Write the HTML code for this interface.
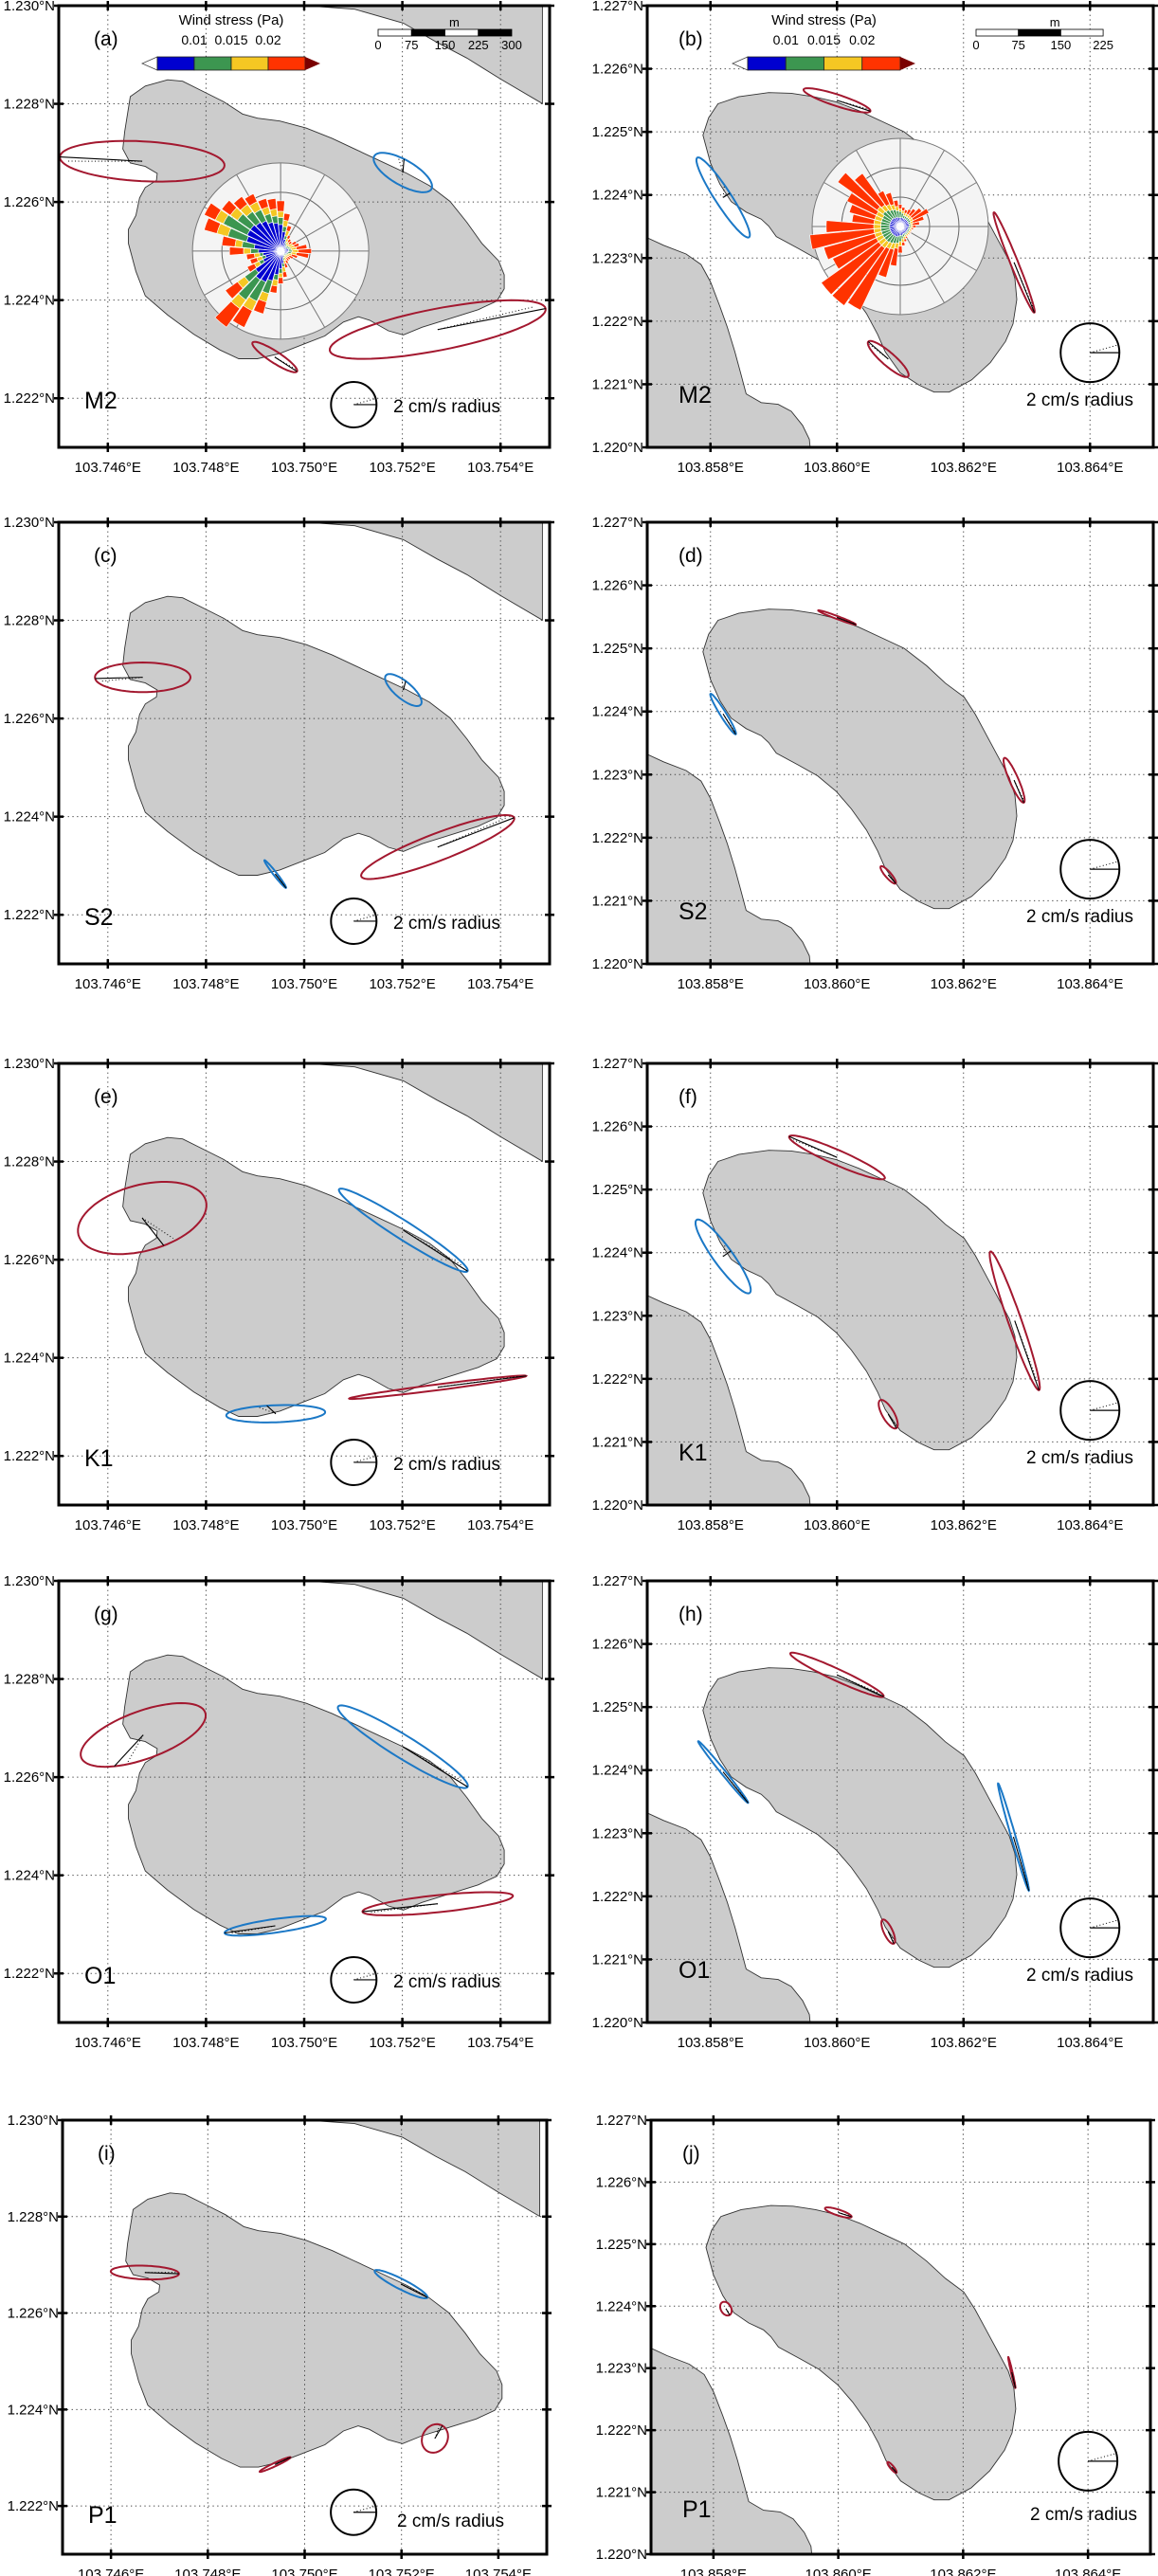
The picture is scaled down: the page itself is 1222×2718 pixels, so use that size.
<!DOCTYPE html>
<html><head><meta charset="utf-8"><title>Tidal ellipses</title>
<style>
html,body{margin:0;padding:0;background:#fff;}
svg{display:block;font-family:"Liberation Sans",Arial,sans-serif;}
</style></head>
<body>
<svg id="fig" xmlns="http://www.w3.org/2000/svg" width="1222" height="2718" viewBox="0 0 1222 2718"></svg>
<script>
// ---- Tidal ellipse data (one entry per ellipse) ----
const ellPanel = [0,0,0,0, 1,1,1,1, 2,2,2,2, 3,3,3,3, 4,4,4,4, 5,5,5,5, 6,6,6,6, 7,7,7,7, 8,8,8,8, 9,9,9,9];
const ellLon = [103.74670,103.75201,103.74940,103.75272, 103.86000,103.85820,103.86280,103.86081,
  103.74671,103.75202,103.74941,103.75272, 103.86000,103.85820,103.86280,103.86081,
  103.74670,103.75202,103.74942,103.75272, 103.86000,103.85820,103.86281,103.86081,
  103.74672,103.75201,103.74941,103.75272, 103.86000,103.85820,103.86279,103.86081,
  103.74670,103.75199,103.74939,103.75269, 103.86000,103.85820,103.86278,103.86086];
const ellLat = [1.22683,1.22660,1.22284,1.22340, 1.22550,1.22396,1.22293,1.22140,
  1.22684,1.22658,1.22283,1.22338, 1.22549,1.22396,1.22291,1.22141,
  1.22685,1.22660,1.22286,1.22340, 1.22551,1.22394,1.22292,1.22144,
  1.22686,1.22662,1.22297,1.22342, 1.22551,1.22397,1.22294,1.22144,
  1.22684,1.22660,1.22286,1.22340, 1.22551,1.22396,1.22293,1.22140];
const ellMajor = [7.25,2.9,2.33,9.67, 2.39,3.23,3.68,1.8, 4.2,2.0,1.54,7.2, 1.37,1.62,1.66,0.77,
  5.8,6.7,4.35,7.85, 3.55,3.07,5.0,1.1, 5.8,6.7,4.5,6.65, 3.5,2.7,3.8,0.9, 3.0,2.6,1.5,1.3, 0.95,0.5,1.08,0.47];
const ellMinor = [1.75,1.1,0.5,1.83, 0.39,0.55,0.26,0.45, 1.3,0.75,0.15,1.2, 0.1,0.2,0.3,0.2,
  2.9,0.8,0.75,0.25, 0.5,0.65,0.45,0.4, 2.1,1.0,0.6,0.75, 0.4,0.15,0.15,0.3, 0.6,0.45,0.15,1.1, 0.2,0.35,0.05,0.12];
const ellIncl = [-3,-30,-33,11, -18,-57,-68,-41, 0,-40,-52,21, -20.5,-58,-66.5,-49,
  15,-32.5,2,7.3, -23.6,-54,-70.7,-60, 20,-31.8,8,6, -24.8,-51,-74,-65, -2,-27,25,60, -18,-60,-77,-50];
const ellPhase = [180,100,0,0, 0,90,0,180, 185,100,0,0, 0,0,0,0, -78,0,100,0, 180,90,0,0,
  -125,0,180,180, 0,0,0,0, 0,0,0,0, 0,0,0,0];
const ellSense = ['cw','ccw','cw','cw', 'cw','ccw','cw','cw', 'cw','ccw','ccw','cw', 'cw','ccw','cw','cw',
  'cw','ccw','ccw','cw', 'cw','ccw','cw','cw', 'cw','ccw','ccw','cw', 'cw','ccw','ccw','cw',
  'cw','ccw','cw','cw', 'cw','cw','cw','cw'];

// ---- Wind rose data (bearing bins of 10 deg, cumulative fraction of outer ring) ----
const roseBearings = [0,10,20,30,40,50,60,70,80,90,100,110,120,130,140,150,160,170,180,190,200,210,220,230,240,250,260,270,280,290,300,310,320,330,340,350];
const roseA_blue  = [0.3,0.22,0.14,0.1,0.08,0.07,0.07,0.08,0.09,0.09,0.08,0.07,0.06,0.05,0.05,0.06,0.08,0.14,0.2,0.27,0.35,0.39,0.4,0.35,0.22,0.18,0.2,0.25,0.3,0.4,0.42,0.42,0.4,0.38,0.34,0.32];
const roseA_green = [0.38,0.28,0.18,0.12,0.1,0.09,0.1,0.11,0.12,0.13,0.12,0.09,0.08,0.07,0.07,0.08,0.11,0.18,0.25,0.33,0.5,0.63,0.68,0.5,0.27,0.22,0.24,0.34,0.44,0.62,0.72,0.6,0.55,0.52,0.44,0.4];
const roseA_yellow= [0.45,0.35,0.24,0.16,0.13,0.12,0.15,0.16,0.18,0.2,0.18,0.13,0.11,0.1,0.1,0.12,0.15,0.24,0.3,0.4,0.6,0.75,0.8,0.6,0.33,0.28,0.3,0.42,0.52,0.75,0.82,0.7,0.65,0.62,0.52,0.48];
const roseA_red   = [0.57,0.43,0.3,0.2,0.17,0.16,0.2,0.22,0.3,0.35,0.32,0.2,0.16,0.14,0.14,0.16,0.2,0.3,0.37,0.48,0.74,0.96,1.06,0.77,0.42,0.36,0.39,0.58,0.67,0.9,0.96,0.82,0.76,0.72,0.62,0.6];
const roseB_blue  = [0.1,0.1,0.1,0.1,0.1,0.1,0.1,0.1,0.1,0.1,0.09,0.09,0.09,0.09,0.09,0.09,0.09,0.1,0.1,0.11,0.12,0.12,0.12,0.12,0.12,0.12,0.12,0.12,0.12,0.12,0.12,0.12,0.12,0.11,0.11,0.1];
const roseB_green = [0.17,0.15,0.13,0.13,0.13,0.13,0.13,0.12,0.12,0.12,0.11,0.11,0.11,0.11,0.11,0.11,0.12,0.14,0.17,0.19,0.2,0.21,0.22,0.22,0.22,0.22,0.22,0.22,0.22,0.22,0.22,0.24,0.23,0.21,0.2,0.18];
const roseB_yellow= [0.2,0.18,0.16,0.16,0.16,0.16,0.16,0.15,0.14,0.14,0.13,0.13,0.13,0.13,0.13,0.13,0.15,0.18,0.22,0.25,0.27,0.28,0.3,0.3,0.3,0.3,0.3,0.3,0.3,0.3,0.3,0.32,0.3,0.28,0.26,0.23];
const roseB_red   = [0.25,0.22,0.2,0.22,0.25,0.3,0.36,0.28,0.22,0.18,0.15,0.14,0.14,0.14,0.14,0.15,0.18,0.22,0.3,0.45,0.6,1.05,1.1,1.1,0.85,0.9,1.03,0.84,0.55,0.6,0.67,0.87,0.74,0.45,0.4,0.3];

// ---- Tick labels ----
const lonTicksL = [103.746,103.748,103.750,103.752,103.754];
const latTicksL = [1.222,1.224,1.226,1.228,1.230];
const lonTicksR = [103.858,103.860,103.862,103.864];
const latTicksR = [1.220,1.221,1.222,1.223,1.224,1.225,1.226,1.227];
const colorbarTicks = ['0.01','0.015','0.02'];

// ---- Coastlines (digitised on the map grid) ----
const islandL = [[345,600],[360,500],[400,470],[460,452],[500,456],[560,488],[610,515],[660,550],[700,562],[760,570],[830,590],[900,620],[960,650],[1020,680],[1100,720],[1160,755],[1215,800],[1260,860],[1300,920],[1345,970],[1360,1010],[1360,1050],[1340,1085],[1290,1110],[1200,1140],[1140,1160],[1090,1182],[1050,1170],[1000,1140],[970,1130],[930,1145],[880,1185],[820,1210],[760,1235],[700,1250],[650,1250],[600,1225],[530,1180],[460,1125],[400,1070],[375,1000],[355,920],[355,880],[375,840],[385,790],[400,760],[430,740],[432,720],[400,700],[360,690],[340,650]];
const mainlandL = [[830,240],[960,250],[1090,290],[1180,345],[1260,390],[1350,450],[1462,520],[1462,240]];
const islandR = [[345,610],[360,560],[385,520],[440,500],[520,488],[580,490],[640,500],[700,515],[760,540],[820,570],[880,600],[940,650],[990,700],[1040,740],[1070,790],[1100,850],[1130,910],[1160,970],[1175,1020],[1180,1080],[1170,1150],[1150,1200],[1110,1260],[1060,1310],[1000,1345],[960,1345],[920,1325],[870,1290],[830,1230],[810,1180],[780,1120],[740,1060],[700,1010],[650,965],[600,935],[540,900],[520,870],[500,850],[460,830],[420,800],[390,750],[365,690]];
const mainlandR = [[190,900],[240,925],[300,950],[340,980],[365,1030],[390,1100],[410,1160],[430,1230],[445,1290],[460,1350],[500,1375],[545,1380],[580,1400],[610,1440],[628,1480],[630,1503],[190,1503]];
function gridL(p){return [103.746+(p[0]-300)/131250, 1.230-(p[1]-240)/140400];}
function gridR(p){return [103.858+(p[0]-365)/168300, 1.226-(p[1]-420)/180500];}

const NS='http://www.w3.org/2000/svg';
const svg=document.getElementById('fig');
function mk(tag,attrs,parent){const e=document.createElementNS(NS,tag);for(const k in attrs)e.setAttribute(k,attrs[k]);(parent||svg).appendChild(e);return e;}

const panels=[
 {id:'a',con:'M2',side:'L',x:62,y:6,w:518,h:466},
 {id:'b',con:'M2',side:'R',x:683,y:6,w:534,h:466},
 {id:'c',con:'S2',side:'L',x:62,y:551,w:518,h:466},
 {id:'d',con:'S2',side:'R',x:683,y:551,w:534,h:466},
 {id:'e',con:'K1',side:'L',x:62,y:1122,w:518,h:466},
 {id:'f',con:'K1',side:'R',x:683,y:1122,w:534,h:466},
 {id:'g',con:'O1',side:'L',x:62,y:1668,w:518,h:466},
 {id:'h',con:'O1',side:'R',x:683,y:1668,w:534,h:466},
 {id:'i',con:'P1',side:'L',x:66,y:2237,w:511,h:458},
 {id:'j',con:'P1',side:'R',x:687,y:2237,w:527,h:458}
];
const COL={cw:'#a3182f',ccw:'#1b78c6'};

function roseSector(g,cx,cy,R,b,r0,r1,fill){
  if(r1<=r0) return;
  const a0=(b-4.6)*Math.PI/180,a1=(b+4.6)*Math.PI/180;
  const p=(r,a)=>[(cx+r*R*Math.sin(a)).toFixed(2),(cy-r*R*Math.cos(a)).toFixed(2)];
  const A=p(r0,a0),B=p(r1,a0),C=p(r1,a1),D=p(r0,a1);
  const s=mk('path',{d:`M${A}L${B}A${r1*R},${r1*R} 0 0 1 ${C}L${D}A${r0*R},${r0*R} 0 0 0 ${A}Z`,fill:fill,stroke:'#fff','stroke-width':0.6},g);
  
  
}

function drawRose(g,cx,cy,R,blu,gre,yel,red){
  const bg=mk('circle',{cx:cx,cy:cy,r:R,fill:'#f4f4f4',stroke:'#777','stroke-width':1},g);
  
  
  for(const fr of [1/3,2/3]){
    const c=mk('circle',{cx:cx,cy:cy,r:R*fr,fill:'none',stroke:'#666','stroke-width':1},g);
    
    
  }
  for(let a=0;a<180;a+=30){
    const t=a*Math.PI/180;
    const l=mk('line',{x1:cx-R*Math.sin(t),y1:cy+R*Math.cos(t),x2:cx+R*Math.sin(t),y2:cy-R*Math.cos(t),stroke:'#777','stroke-width':1},g);
    
    
  }
  roseBearings.forEach((b,i)=>{
    roseSector(g,cx,cy,R,b,yel[i],red[i],'#ff3300');
    roseSector(g,cx,cy,R,b,gre[i],yel[i],'#f5c723');
    roseSector(g,cx,cy,R,b,blu[i],gre[i],'#3c9650');
    roseSector(g,cx,cy,R,b,0,blu[i],'#0000d0');
  });
}

function drawColorbar(x0,x1,y){
  const g=mk('g',{});
  
  
  const w=(x1-x0)/4, cols=['#0000d0','#3c9650','#f5c723','#ff3300'];
  const tl=mk('polygon',{points:`${x0},${y} ${x0},${y+14} ${x0-16},${y+7}`,fill:'#fff',stroke:'#444','stroke-width':0.8},g);
  
  
  cols.forEach((c,i)=>{
    const r=mk('rect',{x:x0+i*w,y:y,width:w,height:14,fill:c,stroke:'#222','stroke-width':0.8},g);
    
    
  });
  const tr=mk('polygon',{points:`${x1},${y} ${x1},${y+14} ${x1+16},${y+7}`,fill:'#7a0000'},g);
  
  
  const t=mk('text',{x:(x0+x1)/2,y:y-34,'font-size':15,'text-anchor':'middle'},g);
  t.textContent='Wind stress (Pa)';
  
  
  colorbarTicks.forEach((lab,i)=>{
    const tx=mk('text',{x:x0+(i+1)*w,y:y-13,'font-size':14,'text-anchor':'middle'},g);
    tx.textContent=lab;
    
    
  });
}

function drawScalebar(x0,segW,n,labels,y){
  const g=mk('g',{});
  
  
  for(let i=0;i<n;i++){
    const r=mk('rect',{x:x0+i*segW,y:y,width:segW,height:7,fill:i%2?'#000':'#fff',stroke:'#000','stroke-width':0.8},g);
    
    
  }
  const m=mk('text',{x:x0+n*segW*(n===4?0.57:0.62),y:y-3,'font-size':13,'text-anchor':'middle'},g);
  m.textContent='m';
  
  
  labels.forEach((l,i)=>{
    const t=mk('text',{x:x0+i*segW,y:y+21,'font-size':13,'text-anchor':'middle'},g);
    t.textContent=l;
    
    
  });
}

panels.forEach((P,pi)=>{
  const L=P.side==='L';
  const lon0=L?103.745:103.857, lon1=L?103.755:103.865, lat0=L?1.221:1.220, lat1=L?1.230:1.227;
  const X=lon=>P.x+(lon-lon0)/(lon1-lon0)*P.w;
  const Y=lat=>P.y+(lat1-lat)/(lat1-lat0)*P.h;
  const pxCm=L?12:15.5;
  const g=mk('g',{});
  
  
  const cp=mk('clipPath',{id:'clip'+P.id},g);
  mk('rect',{x:P.x,y:P.y,width:P.w,height:P.h},cp);
  const inner=mk('g',{'clip-path':`url(#clip${P.id})`},g);
  const conv=L?gridL:gridR;
  const poly=(pts,name)=>{
    const d=pts.map((p,i)=>{const q=conv(p);return (i?'L':'M')+X(q[0]).toFixed(1)+','+Y(q[1]).toFixed(1);}).join('')+'Z';
    const e=mk('path',{d:d,fill:'#cccccc',stroke:'#333','stroke-width':0.9},inner);
    
    
  };
  poly(L?mainlandL:mainlandR,'mainland-coast');
  poly(L?islandL:islandR,'island-land');
  // grid
  const lonT=L?lonTicksL:lonTicksR, latT=L?latTicksL:latTicksR;
  lonT.forEach(v=>{
    const l=mk('line',{x1:X(v),x2:X(v),y1:P.y,y2:P.y+P.h,stroke:'#444','stroke-width':1,'stroke-dasharray':'1.3,3.5'},inner);
    
    
  });
  latT.forEach(v=>{
    const l=mk('line',{x1:P.x,x2:P.x+P.w,y1:Y(v),y2:Y(v),stroke:'#444','stroke-width':1,'stroke-dasharray':'1.3,3.5'},inner);
    
    
  });
  // wind rose
  if(P.id==='a'){const rg=mk('g',{},inner);drawRose(rg,X(103.74952),Y(1.22500),93,roseA_blue,roseA_green,roseA_yellow,roseA_red);}
  if(P.id==='b'){const rg=mk('g',{},inner);drawRose(rg,X(103.86100),Y(1.22350),93,roseB_blue,roseB_green,roseB_yellow,roseB_red);}
  // ellipses
  ellPanel.forEach((pp,k)=>{
    if(pp!==pi) return;
    const cx=X(ellLon[k]), cy=Y(ellLat[k]);
    const a=ellMajor[k]*pxCm, b=ellMinor[k]*pxCm, th=ellIncl[k]*Math.PI/180;
    const ux=Math.cos(th), uy=-Math.sin(th), vx=-Math.sin(th), vy=-Math.cos(th);
    const pt=t=>{const r=t*Math.PI/180;return [cx+a*Math.cos(r)*ux+b*Math.sin(r)*vx, cy+a*Math.cos(r)*uy+b*Math.sin(r)*vy];};
    let d='';
    for(let t=0;t<=360;t+=5){const q=pt(t);d+=(t?'L':'M')+q[0].toFixed(1)+','+q[1].toFixed(1);}
    const e=mk('path',{d:d+'Z',fill:'none',stroke:COL[ellSense[k]],'stroke-width':2},inner);
    
    
    const q=pt(ellPhase[k]);
    const ln=mk('line',{x1:cx,y1:cy,x2:q[0],y2:q[1],stroke:'#000','stroke-width':1.1},inner);
    
    
    const q2=pt(ellPhase[k]+12);
    const ld=mk('line',{x1:cx,y1:cy,x2:cx+(q2[0]-cx)*0.92,y2:cy+(q2[1]-cy)*0.92,stroke:'#000','stroke-width':1,'stroke-dasharray':'1,2.5'},inner);
    
    
  });
  // legend circle
  const lcx=L?X(103.75101):X(103.864), lcy=L?Y(1.22187):Y(1.22150), lr=2*pxCm;
  const lc=mk('circle',{cx:lcx,cy:lcy,r:lr,fill:'none',stroke:'#000','stroke-width':2},inner);
  
  
  const lh=mk('line',{x1:lcx,y1:lcy,x2:lcx+lr,y2:lcy,stroke:'#000','stroke-width':1.2},inner);
  
  
  const ldt=mk('line',{x1:lcx,y1:lcy,x2:lcx+lr*0.9,y2:lcy-lr*0.25,stroke:'#000','stroke-width':1,'stroke-dasharray':'1,2.5'},inner);
  
  
  const lt=mk('text',{x:L?P.x+353:P.x+400,y:L?P.y+429:P.y+422,'font-size':19},g);
  lt.textContent='2 cm/s radius';
  
  
  // labels
  const pl=mk('text',{x:L?P.x+37:P.x+33,y:P.y+42,'font-size':21},g);
  pl.textContent='('+P.id+')';
  
  
  const cl=mk('text',{x:L?P.x+27:P.x+33,y:L?P.y+425:P.y+419,'font-size':25},g);
  cl.textContent=P.con;
  
  
  // frame
  const fr=mk('rect',{x:P.x,y:P.y,width:P.w,height:P.h,fill:'none',stroke:'#000','stroke-width':3},g);
  
  
  lonT.forEach(v=>{
    for(const yy of [P.y,P.y+P.h]){
      const t=mk('line',{x1:X(v),x2:X(v),y1:yy-5,y2:yy+5,stroke:'#000','stroke-width':2.5},g);
      
      
    }
    const tx=mk('text',{x:X(v),y:P.y+P.h+26,'font-size':15,'text-anchor':'middle'},g);
    tx.textContent=v.toFixed(3)+'°E';
    
    
  });
  latT.forEach(v=>{
    for(const xx of [P.x,P.x+P.w]){
      const t=mk('line',{x1:xx-5,x2:xx+5,y1:Y(v),y2:Y(v),stroke:'#000','stroke-width':2.5},g);
      
      
    }
    const tx=mk('text',{x:P.x-4,y:Y(v)+5,'font-size':15,'text-anchor':'end'},g);
    tx.textContent=v.toFixed(3)+'°N';
    
    
  });
});

drawColorbar(166,322,60);
drawColorbar(789,950,60);
drawScalebar(399,35.25,4,['0','75','150','225','300'],31);
drawScalebar(1030,44.7,3,['0','75','150','225'],31);
</script>
</body></html>
